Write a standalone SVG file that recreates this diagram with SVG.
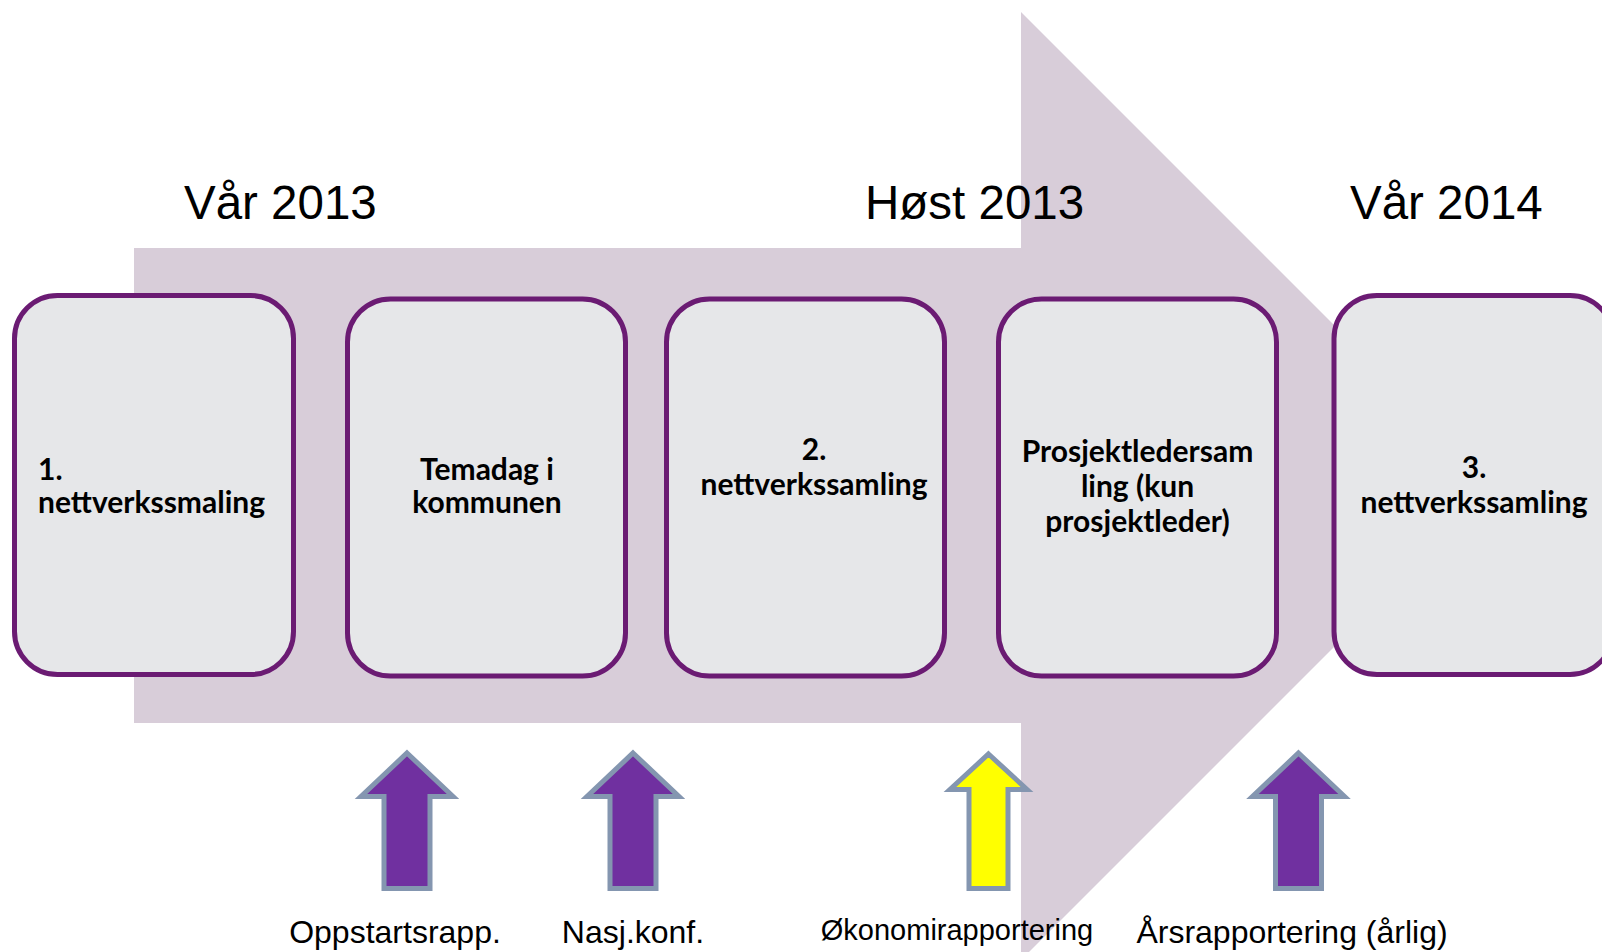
<svg xmlns="http://www.w3.org/2000/svg" xmlns:xlink="http://www.w3.org/1999/xlink" width="1602" height="952" viewBox="0 0 1602 952">
  <style>
    .bg { fill: #d8cdd9; }
    .box { fill: #e6e7e9; stroke: #6b1b73; stroke-width: 5; }
    .season { font-family: "Liberation Sans", Arial, sans-serif; font-size: 47.5px; fill: #000; }
    .btext { font-family: "Lato", "Noto Sans", sans-serif; font-weight: 700; font-size: 30px; fill: #000; }
    .lbl { font-family: "Liberation Sans", Arial, sans-serif; font-size: 32px; fill: #000; }
    .up { stroke: #8496b0; stroke-width: 5; stroke-linejoin: miter; }
    .purple { fill: #7030a0; }
    .yellow { fill: #ffff00; }
  </style>
  <defs>
    <path id="upArrow" d="M0,0 L46,43.5 L23,43.5 L23,135.5 L-23,135.5 L-23,43.5 L-46,43.5 Z"/>
    <path id="upArrowNarrow" d="M0,0 L38.5,35.5 L19.5,35.5 L19.5,134.5 L-19.5,134.5 L-19.5,35.5 L-38.5,35.5 Z"/>
  </defs>
  <rect width="1602" height="952" fill="#ffffff"/>

  <g id="timeline-arrow">
    <path class="bg" d="M134,248 L1021,248 L1021,12 L1495,486 L1021,960 L1021,723 L134,723 Z"/>
  </g>

  <g id="seasons">
    <text class="season" x="184" y="219">Vår 2013</text>
    <text class="season" x="865" y="219">Høst 2013</text>
    <text class="season" x="1350" y="219">Vår 2014</text>
  </g>

  <g id="node1">
    <rect class="box" x="14.5" y="295.5" width="279" height="379" rx="43" ry="43"/>
    <text class="btext" x="38" y="480">1.</text>
    <text class="btext" x="38" y="513">nettverkssmaling</text>
  </g>
  <g id="node2">
    <rect class="box" x="347.5" y="299" width="278" height="377" rx="43" ry="43"/>
    <text class="btext" text-anchor="middle" x="487" y="480">Temadag i</text>
    <text class="btext" text-anchor="middle" x="487" y="513">kommunen</text>
  </g>
  <g id="node3">
    <rect class="box" x="666.5" y="299" width="278" height="377" rx="43" ry="43"/>
    <text class="btext" text-anchor="middle" x="814" y="460">2.</text>
    <text class="btext" text-anchor="middle" x="814" y="495">nettverkssamling</text>
  </g>
  <g id="node4">
    <rect class="box" x="998.5" y="299" width="278" height="377" rx="43" ry="43"/>
    <text class="btext" text-anchor="middle" x="1137.5" y="462">Prosjektledersam</text>
    <text class="btext" text-anchor="middle" x="1137.5" y="497">ling (kun</text>
    <text class="btext" text-anchor="middle" x="1137.5" y="532">prosjektleder)</text>
  </g>
  <g id="node5">
    <rect class="box" x="1334" y="295.5" width="279" height="379" rx="43" ry="43"/>
    <text class="btext" text-anchor="middle" x="1474" y="478">3.</text>
    <text class="btext" text-anchor="middle" x="1474" y="513">nettverkssamling</text>
  </g>

  <g id="marker-oppstart">
    <use xlink:href="#upArrow" href="#upArrow" class="up purple" transform="translate(407,753)"/>
    <text class="lbl" x="395" y="943" text-anchor="middle">Oppstartsrapp.</text>
  </g>
  <g id="marker-nasjkonf">
    <use xlink:href="#upArrow" href="#upArrow" class="up purple" transform="translate(633,753)"/>
    <text class="lbl" x="633" y="943" text-anchor="middle">Nasj.konf.</text>
  </g>
  <g id="marker-okonomi">
    <use xlink:href="#upArrowNarrow" href="#upArrowNarrow" class="up yellow" transform="translate(988.5,754)"/>
    <text class="lbl" x="957" y="940" text-anchor="middle" style="font-size:29px">Økonomirapportering</text>
  </g>
  <g id="marker-arsrapp">
    <use xlink:href="#upArrow" href="#upArrow" class="up purple" transform="translate(1298.5,753)"/>
    <text class="lbl" x="1292" y="943" text-anchor="middle">Årsrapportering (årlig)</text>
  </g>

  <g id="connectors"></g>
</svg>
